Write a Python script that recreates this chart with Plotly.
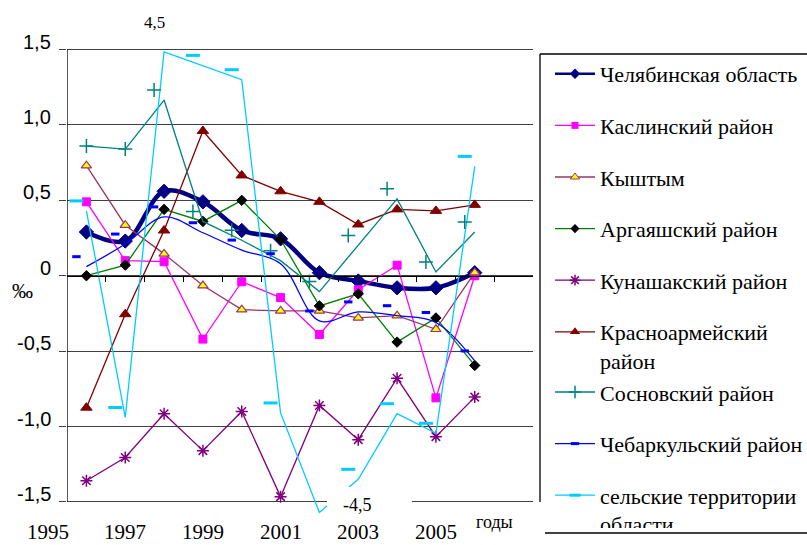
import plotly.graph_objects as go

# ---------------- data ----------------
years = list(range(1996, 2007))

chel      = [0.29, 0.23, 0.56, 0.49, 0.30, 0.245, 0.02, -0.035, -0.08, -0.08, 0.02]
kasli     = [0.49, 0.10, 0.093, -0.42, -0.04, -0.145, -0.39, -0.093, 0.07, -0.81, 0.0]
kyshtym   = [0.73, 0.335, 0.145, -0.065, -0.225, -0.233, -0.233, -0.28, -0.265, -0.355, 0.02]
argayash  = [0.0, 0.07, 0.44, 0.36, 0.50, 0.24, -0.20, -0.12, -0.44, -0.28, -0.595]
kunashak  = [-1.36, -1.205, -0.915, -1.16, -0.90, -1.465, -0.86, -1.087, -0.68, -1.067, -0.805]
krasnoarm = [-0.875, -0.255, 0.30, 0.96, 0.665, 0.56, 0.49, 0.34, 0.44, 0.43, 0.47]
sosnov    = [0.86, 0.84, 1.165, 0.36, 0.235, 0.10, -0.105, 0.20, 0.51, 0.025, 0.29]
chebark   = [0.06, 0.21, 0.39, 0.285, 0.17, 0.08, -0.30, -0.24, -0.265, -0.31, -0.565]
selsk     = [0.43, -0.94, 1.485, 1.395, 1.30, -0.91, -1.57, -1.35, -0.915, -1.045, 0.725]

names = ["Челябинская область", "Каслинский район", "Кыштым", "Аргаяшский район",
         "Кунашакский район", "Красноармейский<br>район", "Сосновский район",
         "Чебаркульский район", "сельские территории<br>области"]

year_label_vals = [1995, 1997, 1999, 2001, 2003, 2005]
year_label_text = ["1995", "1997", "1999", "2001", "2003", "2005"]
y_tick_vals = [-1.5, -1.0, -0.5, 0, 0.5, 1.0, 1.5]
y_tick_text = ["-1,5", "-1,0", "-0,5", "0", "0,5", "1,0", "1,5"]
x_tick_vals = [y + 0.5 for y in range(1996, 2007)]

# ---------------- layout geometry ----------------
W, H = 807, 545
L, R = 67, 533
T, B = 42, 517
XR = [1995.5, 2007.5]
YR = [-1.6, 1.55]

def px_x(p):
    return (p - L) / (R - L)

def px_y(p):
    return (B - p) / (B - T)

def year_to_paper(yr):
    return (yr - XR[0]) / (XR[1] - XR[0])

# marker glyph offset seen in the picture (markers drawn up-left of their points)
dx = 10 * (XR[1] - XR[0]) / (R - L)
dy = 10 * (YR[1] - YR[0]) / (B - T)

SERIF = "Liberation Serif, Times New Roman, serif"
SANS = "Liberation Sans, Arial, sans-serif"
GRID = "#404040"

fig = go.Figure()

def line_trace(y, color, width, marker=None, shape="linear"):
    fig.add_trace(go.Scatter(
        x=years, y=y, mode="lines+markers" if marker else "lines",
        line=dict(color=color, width=width, shape=shape, smoothing=1.0),
        marker=marker, showlegend=False, hoverinfo="skip", cliponaxis=False if marker else True))

# Челябинская
line_trace(chel, "#000080", 4.5,
           dict(symbol="diamond", size=11, color="#000080", line=dict(color="#000080", width=1)),
           shape="spline")
# Каслинский
line_trace(kasli, "#FF00FF", 1.3,
           dict(symbol="square", size=8, color="#FF00FF", line=dict(color="#FF00FF", width=1)))
# Кыштым
line_trace(kyshtym, "#993366", 1.3,
           dict(symbol="triangle-up", size=9, color="#FFFF00", line=dict(color="#993366", width=1.2)))
# Аргаяшский
line_trace(argayash, "#008000", 1.3,
           dict(symbol="diamond", size=8, color="#000000", line=dict(color="#000000", width=1)))
# Кунашакский
line_trace(kunashak, "#800080", 1.3,
           dict(symbol="asterisk-open", size=10, color="#800080", line=dict(color="#800080", width=1.5)))
# Красноармейский
line_trace(krasnoarm, "#800000", 1.3,
           dict(symbol="triangle-up", size=10, color="#800000", line=dict(color="#800000", width=1)))
# Сосновский line + markers
line_trace(sosnov, "#008080", 1.3)
sosn_marker = dict(symbol="cross-thin-open", size=10, color="#008080",
                   line=dict(color="#008080", width=1.5))
fig.add_trace(go.Scatter(x=years[:2], y=sosnov[:2], mode="markers", showlegend=False,
                         hoverinfo="skip", cliponaxis=False, marker=sosn_marker))
fig.add_trace(go.Scatter(x=years[2:], y=sosnov[2:], mode="markers", showlegend=False,
                         hoverinfo="skip", cliponaxis=False, xaxis="x2", yaxis="y2",
                         marker=sosn_marker))
# Чебаркульский
line_trace(chebark, "#0000FF", 1.3, shape="spline")
fig.add_trace(go.Scatter(x=years, y=chebark, mode="markers", showlegend=False,
                         hoverinfo="skip", cliponaxis=False, xaxis="x2", yaxis="y2",
                         marker=dict(symbol="line-ew-open", size=6, color="#0000FF",
                                     line=dict(color="#0000FF", width=3))))
# сельские территории
line_trace(selsk, "#00CCFF", 1.3)
selsk_mark = [None if yr == 2002 else v for yr, v in zip(years, selsk)]
fig.add_trace(go.Scatter(x=years, y=selsk_mark, mode="markers", showlegend=False,
                         hoverinfo="skip", cliponaxis=False, xaxis="x2", yaxis="y2",
                         marker=dict(symbol="line-ew-open", size=10, color="#00CCFF",
                                     line=dict(color="#00CCFF", width=3))))

# ---------------- legend-only entries ----------------
leg_specs = [
    ("#000080", 2.5, dict(symbol="diamond", size=8, color="#000080"), "g1"),
    ("#FF00FF", 1.3, dict(symbol="square", size=7, color="#FF00FF"), "g2"),
    ("#993366", 1.3, dict(symbol="triangle-up", size=8, color="#FFFF00",
                          line=dict(color="#993366", width=1)), "g3"),
    ("#008000", 1.3, dict(symbol="diamond", size=7, color="#000000"), "g4"),
    ("#800080", 1.3, dict(symbol="asterisk-open", size=9, color="#800080",
                          line=dict(color="#800080", width=1.5)), "g5"),
    ("#800000", 1.3, dict(symbol="triangle-up", size=9, color="#800000"), "g6"),
    ("#008080", 1.3, dict(symbol="cross-thin-open", size=9, color="#008080",
                          line=dict(color="#008080", width=1.5)), "g6"),
    ("#0000FF", 1.3, dict(symbol="line-ew-open", size=6, color="#0000FF",
                          line=dict(color="#0000FF", width=3)), "g7"),
    ("#00CCFF", 1.3, dict(symbol="line-ew-open", size=8, color="#00CCFF",
                          line=dict(color="#00CCFF", width=3)), "g8"),
]
for name, (c, w, m, g) in zip(names, leg_specs):
    fig.add_trace(go.Scatter(x=[None], y=[None], mode="lines+markers", name=name,
                             line=dict(color=c, width=w), marker=m, legendgroup=g,
                             showlegend=True, hoverinfo="skip"))

# ---------------- annotations ----------------
ann = []
for v, t in zip(y_tick_vals, y_tick_text):
    ann.append(dict(xref="paper", yref="y", x=0, y=v, xshift=-14, yshift=8,
                    xanchor="right", yanchor="middle", text=t, showarrow=False,
                    font=dict(family=SANS, size=20, color="black")))
for v, t in zip(year_label_vals, year_label_text):
    ann.append(dict(xref="paper", yref="paper", x=year_to_paper(v), y=px_y(532),
                    xanchor="center", yanchor="middle", text=t, showarrow=False,
                    font=dict(family=SERIF, size=21, color="black")))
ann.append(dict(xref="paper", yref="paper", x=px_x(494), y=px_y(522), text="годы",
                showarrow=False, xanchor="center", yanchor="middle",
                font=dict(family=SERIF, size=18, color="black")))
ann.append(dict(xref="paper", yref="paper", x=px_x(154), y=px_y(22), text="4,5",
                showarrow=False, xanchor="center", yanchor="middle",
                font=dict(family=SERIF, size=17, color="black")))
ann.append(dict(xref="paper", yref="paper", x=px_x(357), y=px_y(505), text="-4,5",
                showarrow=False, xanchor="center", yanchor="middle",
                font=dict(family=SERIF, size=18, color="black")))
ann.append(dict(xref="paper", yref="paper", x=px_x(22), y=px_y(291), text="‰",
                showarrow=False, xanchor="center", yanchor="middle",
                font=dict(family=SERIF, size=21, color="black")))

# ---------------- shapes ----------------
shapes = [
    # y axis line
    dict(type="line", xref="x", yref="y", x0=XR[0], x1=XR[0], y0=-1.5, y1=1.5,
         line=dict(color="black", width=1.3), layer="above"),
    # white box behind "-4,5"
    dict(type="rect", xref="paper", yref="paper", x0=px_x(327), x1=px_x(412),
         y0=px_y(525), y1=px_y(487), fillcolor="white", line=dict(width=0), layer="above"),
    # legend frame
    dict(type="line", xref="paper", yref="paper", x0=px_x(540), x1=px_x(540),
         y0=px_y(54), y1=px_y(502), line=dict(color="black", width=1.3)),
    dict(type="line", xref="paper", yref="paper", x0=px_x(540), x1=px_x(807),
         y0=px_y(54), y1=px_y(54), line=dict(color="black", width=1.3)),
    dict(type="line", xref="paper", yref="paper", x0=px_x(545), x1=px_x(807),
         y0=px_y(533), y1=px_y(533), line=dict(color="black", width=1.3)),
]

fig.update_layout(
    width=W, height=H,
    margin=dict(l=L, r=W - R, t=T, b=H - B, pad=0, autoexpand=False),
    paper_bgcolor="white", plot_bgcolor="white",
    showlegend=True,
    legend=dict(x=px_x(550), y=px_y(53), xanchor="left", yanchor="top",
                font=dict(family=SERIF, size=22, color="black"),
                bgcolor="rgba(0,0,0,0)", borderwidth=0, itemwidth=40,
                traceorder="grouped", tracegroupgap=20, valign="top",
                itemclick=False, itemdoubleclick=False),
    xaxis=dict(range=XR, anchor="free", position=(0 - YR[0]) / (YR[1] - YR[0]),
               showline=True, linecolor="black", linewidth=1.3,
               ticks="outside", ticklen=5, tickcolor="black", tickwidth=1,
               tickvals=x_tick_vals, showticklabels=False,
               showgrid=False, zeroline=False, fixedrange=True),
    yaxis=dict(range=YR, tickvals=y_tick_vals, showticklabels=False,
               ticks="outside", ticklen=7, tickcolor=GRID, tickwidth=1.3,
               showgrid=True, gridcolor=GRID, gridwidth=1.3,
               zeroline=False, showline=False, fixedrange=True),
    xaxis2=dict(range=[XR[0] + dx, XR[1] + dx], overlaying="x", anchor="y2",
                visible=False, fixedrange=True),
    yaxis2=dict(range=[YR[0] - dy, YR[1] - dy], overlaying="y", anchor="x2",
                visible=False, fixedrange=True),
    annotations=ann,
    shapes=shapes,
)

fig.write_html(
    "out.html",
    config={"displayModeBar": False},
    post_script="document.documentElement.style.margin='0';"
                "document.documentElement.style.padding='0';"
                "document.body.style.margin='0';document.body.style.padding='0';"
                "document.body.style.overflow='hidden';",
)
